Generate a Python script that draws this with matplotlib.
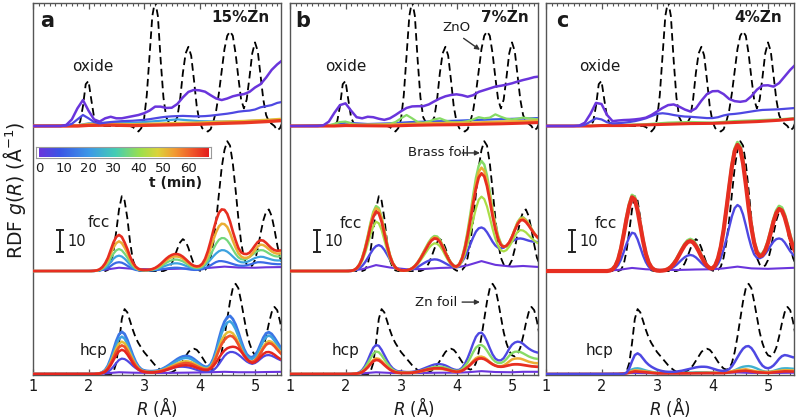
import numpy as np
import matplotlib
matplotlib.use("Agg")
import matplotlib.pyplot as plt
from matplotlib.colors import LinearSegmentedColormap
from matplotlib.ticker import MultipleLocator
import matplotlib.transforms as mtrans

plt.rcParams['font.family'] = ['DejaVu Sans']
plt.rcParams['mathtext.fontset'] = 'dejavusans'

# ---------------- data (g(R) units, scale bar = 10) ----------------
R_FINE = np.round(np.arange(1.0, 5.5001, 0.05), 2)      # 91 points
R_COARSE = np.round(np.arange(1.0, 5.5001, 0.1), 2)     # 46 points
R_FLAT = [1.0, 1.8, 2.0, 2.4, 2.8, 3.2, 3.6, 4.0, 4.4, 4.8, 5.2, 5.5]
R_PUR = [1.0, 2.0, 2.3, 2.55, 2.8, 3.1, 3.4, 3.7, 4.0, 4.2, 4.45, 4.7, 5.0, 5.2, 5.5]
R_SMALL = [1.0, 2.3, 2.45, 2.6, 2.8, 3.0, 3.5, 3.9, 4.2, 4.45, 4.6, 4.8, 5.0, 5.3, 5.5]
Z20 = [0.0] * 20
Z6 = [0.0] * 6

# reference (dashed) curves
ZNO_REF = ([0.0] * 16 +
           [0, 2, 9, 19, 20.5, 12, 4, 1, 0, 0, 0, 0, 0, 0, 0, 0, 0, 0, 0, 0] +
           [-0.5, -1.5, -2.5, -1, 3, 14, 32, 50, 57, 50, 30, 13, 4, 1.5, 1.5, 1.5, 4, 12, 24, 33] +
           [36, 32, 21, 9, 2, -1, -2, -2.5, -1.5, 2, 7, 15, 25, 35, 41, 43, 41, 33, 22, 12] +
           [8, 12, 22, 33, 38, 34, 23, 12, 5, 2, 1, 0, -2, -1, 2])
BRASS_REF = ([0.0] * 27 +
             [0.5, 3, 9, 18, 28, 34, 32, 24, 13, 5, 1.5, 0.3, 0] +
             [0, 0, 0, 0, 0, 0, 0, 0] +
             [0.5, 1.5, 3.5, 6.5, 10, 13, 14.5, 13.5, 10.5, 6.5, 3, 1, 0.2, 0, 0.5, 2, 6, 13, 23, 35,
              47, 55, 59, 57, 49, 37, 24, 13, 6, 3, 2, 2.5, 5, 10, 17, 23, 27, 28, 25, 19, 12, 6, 3])
ZN_REF = ([0.0] * 29 +
          [1, 5, 14, 25, 29.5, 28, 24, 20, 16.5, 14, 12] +
          [10, 8.5, 7, 5.5, 4, 2.8, 1.8, 1, 0.5, 0.5, 0.8, 1.5, 2.5, 4, 6, 8, 10, 11.2, 11.5, 11] +
          [9.5, 7.5, 5.5, 3.8, 2.5, 2, 2.5, 5, 10, 17, 25, 33, 39, 41, 39, 33, 26, 19, 14, 10.5] +
          [8.5, 8, 9, 12, 17, 23, 28, 30.5, 29, 24, 17])

# ---- panel a (15%Zn) ----
A_OX_PURPLE = Z6 + [0.5, 3, 8, 11.8, 7, 3, 2, 3.5, 4.2, 3.5,
                    3.5, 4, 4.5, 5, 5.8, 7, 8.8, 8.8, 8.2, 8.3,
                    10, 13, 15.5, 16.4, 16.2, 15.6, 14, 12.5, 11.8, 12.5,
                    13.5, 14.1, 14.5, 15.5, 17.5, 19, 22, 25.5, 28, 30]
A_OX_BLUE = Z6 + [0.2, 1, 3, 5, 3.5, 1.8, 1.2, 1.5, 1.8, 2,
                  2.2, 2.3, 2.4, 2.6, 2.8, 3.1, 3.5, 3.9, 4.2, 4.4,
                  4.5, 4.6, 4.5, 4.4, 4.4, 4.5, 4.7, 5, 5.3, 5.6,
                  6, 6.5, 6.8, 7, 7.5, 8.5, 9, 9.5, 10.5, 11]
A_OX_CYAN = [0, 0.3, 1.2, 1.5, 1.4, 2.2, 3.0, 2.2, 2.0, 2.2, 2.6, 3.0]
A_OX_ORANGE = [0, 0.2, 0.8, 0.9, 0.7, 1.0, 1.3, 1.5, 1.9, 2.2, 2.7, 3.2]
A_OX_RED = [0, 0, 0.3, 0.4, 0.2, 0.4, 0.6, 0.8, 1.2, 1.5, 2.0, 2.5]

A_FCC_PURPLE = [0, 0.1, 0.6, 1.5, 1.0, 0.8, 0.9, 1.1, 1.2, 1.5, 2.0, 1.6, 1.5, 1.7, 1.8]
A_FCC_BLUE = Z20 + [0, 0, 0, 0.1, 0.2, 0.5, 0.9, 1.5, 2.3, 3.2, 3.8, 4, 3.8, 3.2, 2.4, 1.6, 0.9, 0.5, 0.3, 0.2,
                    0.2, 0.2, 0.2, 0.3, 0.4, 0.5, 0.7, 0.9, 1.1, 1.3, 1.4, 1.5, 1.5, 1.4, 1.2, 1, 0.8, 0.6, 0.5, 0.5,
                    0.6, 0.8, 1.2, 1.8, 2.6, 3.4, 4.1, 4.5, 4.5, 4.3, 4.0, 3.6, 3.2, 2.8, 2.5, 2.4, 2.4, 2.6, 2.9, 3.3,
                    3.7, 4, 4, 3.9, 3.7, 3.5, 3.3, 3.2, 3.1, 3.1, 3.1]
A_FCC_CYAN = Z20 + [0, 0, 0, 0.1, 0.3, 0.8, 1.5, 2.6, 4, 5.6, 6.6, 7, 6.6, 5.6, 4.3, 2.8, 1.6, 0.9, 0.5, 0.3,
                    0.3, 0.3, 0.3, 0.4, 0.6, 1, 1.5, 2, 2.5, 2.9, 3.3, 3.5, 3.5, 3.3, 2.9, 2.4, 1.9, 1.4, 1.1, 1,
                    1.1, 1.6, 2.5, 3.8, 5.2, 6.7, 8, 9, 9.5, 9.4, 8.8, 7.8, 6.6, 5.4, 4.5, 4, 3.9, 4.1, 4.6, 5.3,
                    5.9, 6.3, 6.5, 6.4, 6, 5.6, 5.2, 4.9, 4.8, 4.8, 4.9]
A_FCC_GREEN = Z20 + [0, 0, 0, 0.2, 0.5, 1.1, 2.1, 3.7, 5.8, 7.9, 9.4, 10, 9.4, 7.9, 6.1, 4, 2.3, 1.2, 0.6, 0.4,
                     0.3, 0.3, 0.4, 0.6, 0.9, 1.4, 2.1, 2.9, 3.7, 4.4, 4.9, 5.2, 5.2, 4.9, 4.4, 3.6, 2.8, 2.1, 1.6, 1.4,
                     1.5, 2, 3.2, 5, 7.4, 10, 12.4, 14.2, 15, 14.9, 13.9, 12.1, 9.9, 7.8, 6.2, 5.4, 5.2, 5.5, 6.3, 7.3,
                     8.3, 9.1, 9.5, 9.4, 8.8, 8, 7.3, 6.8, 6.6, 6.6, 6.7]
A_FCC_ORANGE = Z20 + [0, 0, 0.1, 0.2, 0.6, 1.5, 2.9, 5, 7.8, 10.7, 12.7, 13.5, 12.7, 10.7, 8.2, 5.3, 3.1, 1.6, 0.8, 0.5,
                      0.4, 0.4, 0.5, 0.8, 1.2, 1.9, 2.7, 3.8, 4.8, 5.7, 6.3, 6.6, 6.6, 6.3, 5.6, 4.6, 3.6, 2.7, 2.1, 1.8,
                      2, 2.6, 4.2, 6.9, 10.3, 14.2, 17.7, 20.3, 21.5, 21.3, 20, 17.3, 13.8, 10.7, 8.1, 6.6, 6, 6, 6.5, 7.9,
                      9.6, 11.2, 12, 11.8, 11, 9.9, 8.9, 8.2, 7.9, 8, 8.1]
A_FCC_RED = Z20 + [0, 0, 0.1, 0.3, 0.8, 1.8, 3.5, 6, 9.5, 13, 15.5, 16.4, 15.5, 13, 10, 6.5, 3.8, 2, 1, 0.6,
                   0.5, 0.5, 0.6, 0.9, 1.4, 2.2, 3.2, 4.4, 5.6, 6.6, 7.3, 7.7, 7.7, 7.3, 6.5, 5.4, 4.2, 3.1, 2.4, 2.1,
                   2.3, 3.3, 5.5, 9, 13.5, 18.5, 23, 26.5, 28, 27.8, 26, 22.5, 18, 14, 10.5, 8.5, 7.8, 7.7, 8.3, 9.8,
                   11.6, 13.2, 14, 13.8, 12.8, 11.5, 10.3, 9.5, 9.2, 9.3, 9.5]

A_HCP_PURPLE = [0, 0.1, 0.3, 0.8, 0.6, 0.5, 0.5, 0.6, 0.7, 0.8, 1.0, 0.8, 0.8, 0.9, 1.0]
A_HCP_BLUELOW = Z20 + [0, 0, 0, 0, 0.1, 0.2, 0.5, 1, 2, 3.4, 5, 6.4, 7, 6.8, 6, 4.9, 3.7, 2.7, 1.9, 1.4,
                       1.1, 0.9, 0.8, 0.8, 0.8, 0.9, 1.1, 1.4, 1.8, 2.2, 2.6, 3, 3.2, 3.3, 3.3, 3.2, 3, 2.7, 2.3, 1.9,
                       1.5, 1.2, 1, 1, 1.2, 1.8, 2.9, 4.5, 6.4, 8.2, 9.4, 10, 10, 9.6, 8.8, 7.8, 6.7, 5.7, 5, 4.6,
                       5, 5.8, 6.9, 7.9, 8.5, 8.6, 8.3, 7.7, 7, 6.4, 5.9]
A_HCP_BLUE = Z20 + [0, 0, 0, 0.1, 0.3, 0.8, 1.8, 3.8, 7, 11, 15, 18, 19.2, 18.2, 15.5, 12, 8.5, 5.6, 3.5, 2.2,
                    1.6, 1.4, 1.3, 1.3, 1.4, 1.6, 2, 2.6, 3.3, 4.1, 5, 5.9, 6.8, 7.5, 8, 8.2, 8.1, 7.6, 6.8, 5.8,
                    4.8, 3.9, 3.3, 3.3, 4.4, 7, 11, 16, 20.5, 23.8, 25.8, 26.4, 25, 22.5, 19, 15, 11.5, 9, 7.8, 7.6,
                    8.5, 10.5, 13.5, 16.5, 18.5, 19, 18.2, 16.5, 14.5, 12.5, 11]
A_HCP_CYAN = Z20 + [0, 0, 0, 0.1, 0.3, 0.7, 1.6, 3.4, 6.2, 9.7, 13.3, 16, 17, 16.1, 13.7, 10.6, 7.5, 5, 3.1, 2,
                    1.4, 1.2, 1.1, 1.1, 1.2, 1.4, 1.8, 2.3, 2.9, 3.6, 4.4, 5.2, 6, 6.6, 7.1, 7.3, 7.2, 6.8, 6, 5.1,
                    4.2, 3.4, 2.9, 2.9, 3.9, 6.2, 9.9, 14.4, 18.6, 21.6, 23.4, 24, 22.7, 20.4, 17.3, 13.6, 10.5, 8.2, 7.1, 6.9,
                    7.7, 9.5, 12.3, 15, 16.8, 17.5, 16.8, 15.2, 13.3, 11.5, 10.1]
A_HCP_ORANGE = Z20 + [0, 0, 0, 0.1, 0.2, 0.6, 1.4, 2.9, 5.3, 8.4, 11.5, 13.8, 14.7, 14, 11.9, 9.2, 6.5, 4.3, 2.7, 1.7,
                      1.2, 1, 0.9, 0.9, 1, 1.2, 1.5, 1.9, 2.4, 3, 3.6, 4.2, 4.8, 5.3, 5.6, 5.8, 5.7, 5.4, 4.8, 4.1,
                      3.4, 2.8, 2.4, 2.4, 3.3, 5.3, 8.4, 12.1, 15.4, 17.6, 18.9, 19.2, 18.5, 16.8, 14.3, 11.4, 8.7, 6.8, 5.8, 5.6,
                      6.3, 7.8, 10.1, 12.4, 14.2, 15, 14.6, 13.4, 11.8, 10.2, 9]
A_HCP_RED = Z20 + [0, 0, 0, 0.1, 0.2, 0.6, 1.2, 2.6, 4.7, 7.4, 10.2, 12.2, 13, 12.4, 10.5, 8.1, 5.8, 3.8, 2.4, 1.5,
                   1.1, 0.9, 0.8, 0.8, 0.9, 1, 1.3, 1.7, 2.1, 2.6, 3.1, 3.6, 4.1, 4.5, 4.8, 5, 4.9, 4.6, 4.1, 3.5,
                   2.9, 2.4, 2.1, 2.1, 2.9, 4.8, 7.6, 10.8, 13.6, 15.5, 16.8, 17.4, 17, 15.6, 13.4, 10.8, 8.4, 6.6, 5.7, 5.5,
                   6.1, 7.4, 9.5, 11.6, 13.3, 14, 13.7, 12.6, 11.1, 9.7, 8.5]
A_HCP_REDLOW = Z20 + [0, 0, 0, 0.1, 0.2, 0.5, 1, 2.2, 4, 6.3, 8.6, 10.3, 11, 10.5, 8.9, 6.9, 4.9, 3.2, 2, 1.3,
                      0.9, 0.8, 0.7, 0.7, 0.8, 0.9, 1.1, 1.4, 1.8, 2.2, 2.6, 3, 3.4, 3.7, 3.9, 4, 3.9, 3.7, 3.3, 2.8,
                      2.4, 2, 1.8, 1.8, 2.4, 3.6, 5.3, 7.3, 9.2, 10.7, 11.7, 12.2, 12.4, 12.2, 11.5, 10.2, 8.6, 7, 5.7, 5,
                      5.4, 6.4, 7.8, 9.1, 9.9, 10, 9.6, 8.8, 7.8, 6.9, 6.2]

# ---- panel b (7%Zn) ----
B_OX_PURPLE = Z6 + [0.3, 2, 6, 9.5, 10.3, 7, 4, 3.5, 4.2, 4,
                    3.3, 2.8, 3.5, 5, 6.7, 8.2, 8.9, 9, 9, 9.8,
                    11.2, 12.5, 13.5, 14.1, 14.4, 14, 13.3, 14, 15.5, 16.3,
                    17.1, 17.9, 18.3, 18.8, 19.4, 20.2, 20.9, 21.5, 22.2, 22.5]
B_OX_GREEN = Z6 + [0, 0.3, 1, 1.8, 2, 1.2, 0.6, 0.5, 0.5, 0.6,
                   0.7, 0.8, 1, 1.8, 3.5, 5, 3.5, 1.8, 1.5, 2,
                   3, 3.5, 2.5, 1.8, 1.7, 1.8, 2.2, 3, 4, 3.5,
                   3.8, 5.3, 4.2, 3.3, 3, 3.3, 3.8, 3.5, 3.2, 3]
B_OX_BLUE = [0, 0.5, 1.5, 0.9, 1.2, 1.8, 2.1, 2.4, 2.8, 3.1, 3.4, 3.6]
B_OX_ORANGE = [0, 0.1, 0.5, 0.6, 0.6, 1.0, 1.3, 1.4, 1.6, 2.0, 2.2, 2.5]
B_OX_RED = [0, 0, 0.2, 0.1, 0, 0.3, 0.5, 0.6, 0.8, 1.0, 1.3, 1.6]

B_FCC_PURPLE = [0, 0.1, 0.8, 2.7, 1.6, 0.8, 0.9, 1.4, 1.6, 2.6, 4.5, 2.8, 2.0, 2.3, 1.8]
B_FCC_BLUE = Z20 + [0, 0, 0, 0.2, 0.5, 1.2, 2.3, 3.9, 5.9, 8, 10, 11.3, 11.8, 11.2, 9.6, 7.5, 5.3, 3.3, 1.8, 0.9,
                    0.5, 0.4, 0.4, 0.5, 0.8, 1.2, 1.8, 2.6, 3.4, 4.1, 4.7, 5.1, 5.3, 5.2, 4.8, 4.2, 3.5, 2.8, 2.3, 2,
                    2.1, 2.8, 4.2, 6.3, 9, 12.2, 15.3, 17.9, 19.4, 19.8, 19.2, 17.6, 15.5, 13.3, 11.6, 10.6, 10.3, 10.6, 11.4, 12.4,
                    13.4, 14.2, 14.7, 14.8, 14.6, 14.2, 13.8, 13.5, 13.3, 13.2, 13.1]
B_FCC_GREEN = Z20 + [0, 0, 0.1, 0.4, 1.3, 3, 6, 10.4, 15.8, 21.8, 26.8, 29.5, 28.6, 24.6, 18.6, 12.6, 7.4, 3.8, 1.7, 0.8,
                     0.3, 0.2, 0.3, 0.6, 1.3, 2.4, 4, 6, 8.4, 10.8, 13.1, 14.9, 15.9, 15.7, 14.3, 11.8, 8.8, 6, 3.9, 2.5,
                     2.1, 3.2, 6.2, 11.2, 18, 26, 34.3, 42.2, 47.8, 50, 48.4, 43.3, 36, 28.1, 21.3, 16, 12.5, 11, 11.2, 12.8,
                     15.5, 19, 22.2, 24, 24.4, 23.3, 21.5, 19.3, 17.2, 15.5, 14.2]
B_FCC_GREENLOW = Z20 + [0, 0, 0.1, 0.3, 1, 2.3, 4.6, 7.9, 12, 16.6, 20.3, 22.4, 21.7, 18.7, 14.1, 9.6, 5.6, 2.9, 1.3, 0.6,
                        0.2, 0.2, 0.2, 0.5, 1, 1.9, 3.1, 4.8, 6.6, 8.5, 10.4, 11.8, 12.6, 12.4, 11.3, 9.4, 7, 4.8, 3.1, 2,
                        1.7, 2.5, 4.4, 7.7, 12.3, 17.7, 23.2, 28.4, 32.4, 33.8, 32.7, 29.3, 24.4, 19.2, 14.7, 11.4, 9.4, 8.9, 9.5, 11.1,
                        13.3, 15.8, 17.8, 18.6, 18.4, 17.6, 16.3, 15, 13.8, 12.9, 12.2]
B_FCC_ORANGE = Z20 + [0, 0, 0.1, 0.4, 1.3, 2.9, 5.8, 10, 15.3, 21.1, 25.9, 28.5, 27.7, 23.8, 18, 12.2, 7.2, 3.7, 1.7, 0.7,
                      0.3, 0.2, 0.3, 0.6, 1.2, 2.3, 3.8, 5.8, 8.1, 10.4, 12.6, 14.4, 15.3, 15.1, 13.7, 11.4, 8.5, 5.8, 3.7, 2.4,
                      2, 3.1, 5.9, 10.6, 17, 24.4, 32.3, 39.7, 45, 47, 45.5, 40.7, 33.9, 26.5, 20.1, 15.3, 12.2, 11, 11.4, 13,
                      15.6, 18.8, 21.8, 23.6, 24, 23, 21.2, 19.1, 17.1, 15.5, 14.3]
B_FCC_RED = Z20 + [0, 0, 0.1, 0.4, 1.2, 2.8, 5.5, 9.5, 14.5, 20, 24.5, 27, 26.2, 22.5, 17, 11.5, 6.8, 3.5, 1.6, 0.7,
                   0.3, 0.2, 0.3, 0.6, 1.2, 2.2, 3.7, 5.6, 7.8, 10, 12.2, 13.9, 14.8, 14.6, 13.3, 11, 8.2, 5.6, 3.6, 2.3,
                   2, 3, 5.6, 10, 16, 23, 30.5, 37.5, 42.5, 44.4, 43, 38.5, 32, 25, 19, 14.5, 11.8, 11, 11.5, 13,
                   15.5, 18.5, 21.3, 23, 23.2, 22.3, 20.7, 18.8, 17, 15.6, 14.5]

B_HCP_PURPLE = [0, 0.1, 0.3, 0.8, 0.5, 0.4, 0.5, 0.6, 0.6, 0.8, 1.3, 0.9, 0.8, 1.0, 1.0]
B_HCP_BLUE = Z20 + [0, 0, 0, 0.1, 0.3, 0.8, 1.8, 3.6, 6.2, 9.2, 11.9, 13.2, 12.8, 11, 8.6, 6.2, 4.1, 2.6, 1.7, 1.2,
                    1.2, 1, 0.9, 0.9, 1, 1.2, 1.5, 1.9, 2.4, 2.9, 3.4, 3.9, 4.3, 4.5, 4.5, 4.3, 3.9, 3.3, 2.6, 2.1,
                    1.8, 1.9, 2.8, 4.6, 7.2, 10.4, 13.9, 16.9, 18.5, 18.8, 17.4, 14.8, 11.7, 8.9, 7, 6.2, 6.2, 7.2, 9.2, 11.5,
                    13.3, 14.3, 14.7, 14.5, 13.7, 12.6, 11.6, 10.8, 10.2, 9.8, 9.6]
B_HCP_GREEN = Z20 + [0, 0, 0, 0.1, 0.2, 0.6, 1.4, 2.8, 4.8, 7.1, 9.2, 10.2, 9.9, 8.5, 6.6, 4.8, 3.2, 2, 1.3, 0.9,
                     0.8, 0.7, 0.7, 0.7, 0.8, 0.9, 1.1, 1.4, 1.8, 2.2, 2.6, 2.9, 3.2, 3.3, 3.3, 3.2, 2.9, 2.5, 2, 1.6,
                     1.4, 1.5, 2.2, 3.5, 5.2, 7.4, 9.9, 12, 13, 13.2, 12.3, 10.6, 8.6, 6.8, 5.6, 5, 5, 5.6, 6.8, 8.3,
                     9.5, 10.1, 10.2, 10, 9.4, 8.7, 8, 7.5, 7.1, 6.9, 6.8]
B_HCP_ORANGE = Z20 + [0, 0, 0, 0.1, 0.2, 0.4, 1, 2, 3.4, 5, 6.4, 7.1, 6.9, 5.9, 4.6, 3.3, 2.2, 1.4, 0.9, 0.6,
                      0.5, 0.5, 0.5, 0.5, 0.6, 0.7, 0.9, 1.1, 1.4, 1.7, 1.9, 2.1, 2.3, 2.3, 2.3, 2.2, 2, 1.7, 1.4, 1.1,
                      1, 1.1, 1.6, 2.3, 3.3, 4.6, 6, 7.2, 7.8, 7.9, 7.5, 6.6, 5.5, 4.5, 3.8, 3.5, 3.5, 3.9, 4.7, 5.7,
                      6.6, 7, 7.1, 7, 6.6, 6.1, 5.6, 5.3, 5, 4.9, 4.8]
B_HCP_RED = Z20 + [0, 0, 0, 0.1, 0.2, 0.4, 0.9, 1.8, 3, 4.5, 5.8, 6.4, 6.2, 5.3, 4.1, 3, 2, 1.3, 0.8, 0.6,
                   0.5, 0.5, 0.5, 0.5, 0.6, 0.8, 1, 1.3, 1.6, 1.9, 2.2, 2.4, 2.6, 2.6, 2.6, 2.5, 2.2, 1.9, 1.5, 1.2,
                   1, 1.1, 1.5, 2.2, 3.1, 4.2, 5.4, 6.4, 7, 7.1, 6.8, 6.1, 5.2, 4.4, 3.8, 3.4, 3.3, 3.4, 3.7, 4,
                   4.3, 4.4, 4.4, 4.3, 4.1, 3.9, 3.7, 3.5, 3.4, 3.3, 3.3]

# ---- panel c (4%Zn) ----
C_OX_PURPLE = Z6 + [0.2, 1.5, 5.5, 10.5, 10, 5, 2.2, 2.5, 2.7, 2.8,
                    3, 3.3, 3.8, 5, 6.6, 8.2, 9.5, 9.8, 8.8, 7.5,
                    6.6, 8, 11.5, 14.5, 15.8, 15.9, 14.5, 12.3, 11.3, 11,
                    11.4, 13.5, 16.5, 18.4, 18.5, 17.9, 19.5, 22.5, 25.5, 28]
C_OX_BLUE = Z6 + [0, 0.5, 2, 3.5, 3, 1.7, 1.2, 1.3, 1.5, 1.8,
                  2.2, 2.8, 3.5, 4.5, 5.5, 5.8, 5.5, 5, 4.6, 4.3,
                  4.2, 4, 3.8, 3.6, 3.6, 4, 4.8, 5.3, 5.5, 5.8,
                  6.2, 6.6, 7, 7.3, 7.4, 7.5, 7.6, 7.8, 8, 8.2]
C_OX_GREEN = [0, 0.1, 0.4, 0.5, 0.8, 1.5, 1.8, 1.5, 2.2, 2.6, 3.0, 3.6]
C_OX_RED = [0, 0, 0.2, 0.2, 0.5, 0.8, 1.1, 1.2, 1.6, 2.0, 2.6, 3.3]

C_FCC_PURPLE = [0, 0.1, 0.5, 1.4, 0.8, 0.5, 0.5, 0.7, 0.8, 1.2, 2.0, 1.2, 1.0, 1.2, 1.5]
C_FCC_BLUE = Z20 + [0, 0, 0, 0.1, 0.4, 1.2, 2.7, 5.2, 8.6, 12.3, 15.4, 17.4, 17, 14.4, 10.7, 7, 4, 2, 0.9, 0.4,
                    0.2, 0.1, 0.2, 0.3, 0.6, 1.1, 1.8, 2.8, 4, 5.2, 6.3, 7, 7.3, 7, 6.2, 5, 3.7, 2.5, 1.6, 1,
                    0.9, 1.6, 3.3, 6, 9.8, 14.6, 19.8, 24.9, 28.6, 30, 29.1, 25.7, 20.8, 15.5, 10.9, 7.6, 6, 5.8, 6.4, 7.8,
                    9.6, 11.6, 13.4, 14.5, 14.8, 14.4, 13, 11, 9, 7.5, 6.5]
C_FCC_GREEN = Z20 + [0, 0, 0, 0.3, 1, 2.6, 5.7, 10.7, 17.4, 24.5, 30.6, 34.5, 33.6, 28.6, 21.4, 14.2, 8.2, 4.1, 1.8, 0.7,
                     0.3, 0.2, 0.3, 0.5, 1.1, 2.1, 3.6, 5.5, 7.8, 10.2, 12.4, 13.9, 14.5, 13.9, 12.2, 9.8, 7, 4.6, 2.7, 1.5,
                     1.3, 2.8, 6.1, 11.4, 19, 28.6, 38.8, 48.5, 55.6, 58.5, 56.8, 50.3, 40.8, 30.2, 20.9, 13.7, 9.2, 7.5, 7.9, 10.1,
                     13.7, 18.5, 23.6, 27.5, 29.5, 28.8, 25.8, 21.3, 16.2, 12.1, 9.3]
C_FCC_RED = Z20 + [0, 0, 0, 0.2, 0.8, 2.3, 5.2, 10, 16.5, 23.5, 29.5, 33.5, 32.5, 27.5, 20.5, 13.5, 7.7, 3.8, 1.6, 0.6,
                   0.2, 0.1, 0.2, 0.4, 0.9, 1.8, 3.2, 5, 7.3, 9.6, 11.7, 13.1, 13.6, 13, 11.4, 9.1, 6.5, 4.2, 2.4, 1.3,
                   1.2, 2.6, 5.8, 11, 18.5, 28, 38, 47.5, 54.5, 57.3, 55.5, 49, 39.5, 29, 19.8, 12.8, 8.4, 6.8, 7.2, 9.3,
                   12.8, 17.5, 22.5, 26.3, 28.2, 27.5, 24.5, 20, 15, 11, 8.3]

C_HCP_PURPLE = [0, 0.1, 0.2, 0.5, 0.4, 0.3, 0.3, 0.4, 0.4, 0.5, 0.7, 0.5, 0.5, 0.5, 0.6]
C_HCP_BLUE = Z20 + [0, 0, 0, 0, 0, 0, 0, 0, 0.1, 0.6, 2.5, 5.8, 8.6, 9.4, 8.6, 7, 5.4, 4.2, 3.3, 2.6,
                    2, 1.6, 1.3, 1.1, 1, 1, 1, 1.1, 1.3, 1.5, 1.8, 2.1, 2.4, 2.7, 3, 3.2, 3.3, 3.3, 3.2, 2.9,
                    2.5, 2.1, 1.7, 1.5, 1.4, 1.6, 2.2, 3.5, 5.4, 7.6, 9.7, 11.5, 12.5, 12.7, 11.8, 10, 7.7, 5.5, 3.8, 2.9,
                    2.6, 3, 3.9, 5.3, 6.9, 8.1, 8.6, 8.4, 8, 7.6, 7.5]
C_HCP_CYAN = Z20 + [0, 0, 0, 0, 0, 0, 0, 0, 0.1, 0.4, 1.2, 2.1, 2.5, 2.6, 2.4, 2, 1.6, 1.3, 1, 0.8,
                    0.6, 0.5, 0.4, 0.4, 0.4, 0.4, 0.4, 0.4, 0.5, 0.5, 0.6, 0.6, 0.7, 0.7, 0.8, 0.8, 0.8, 0.8, 0.8, 0.7,
                    0.7, 0.6, 0.5, 0.5, 0.5, 0.6, 0.8, 1.2, 1.7, 2.3, 2.9, 3.3, 3.5, 3.6, 3.4, 3, 2.5, 1.9, 1.4, 1.1,
                    1, 1.1, 1.4, 1.8, 2.2, 2.5, 2.6, 2.6, 2.5, 2.4, 2.3]
C_HCP_ORANGE = [0, 0, 0.5, 1.8, 1.2, 0.5, 0.4, 0.6, 0.6, 1.8, 2.2, 1.2, 0.9, 1.8, 1.6]
C_HCP_RED = [0, 0, 0.3, 1.2, 0.8, 0.3, 0.3, 0.4, 0.4, 1.2, 1.5, 0.8, 0.5, 1.2, 1.1]

PANEL_LETTERS = ['a', 'b', 'c']
PANEL_TITLES = ['15%Zn', '7%Zn', '4%Zn']
X_TICKS = [1, 2, 3, 4, 5]
CB_TICKS = [0, 10, 20, 30, 40, 50, 60]
T_MAX = 68.0

# ---------------- style / layout ----------------
OFFSET = {'hcp': 0.0, 'fcc': 46.8, 'oxide': 112.7}
cmap = LinearSegmentedColormap.from_list('tcol', [
    (0.00, '#6a35dc'), (0.12, '#3a55e6'), (0.30, '#3c9be6'), (0.45, '#45cdb4'),
    (0.60, '#9ee04a'), (0.70, '#dcd33a'), (0.80, '#f29a32'), (0.90, '#f05a2a'), (1.00, '#e41e1e')])

# (region, R array, values, time in min, linewidth)
PANEL_CURVES = [
    [('oxide', R_FLAT, A_OX_CYAN, 22, 1.6), ('oxide', R_FLAT, A_OX_ORANGE, 50, 2.0),
     ('oxide', R_FLAT, A_OX_RED, 65, 2.4), ('oxide', R_COARSE, A_OX_BLUE, 5, 1.6),
     ('oxide', R_COARSE, A_OX_PURPLE, 0, 1.8),
     ('fcc', R_PUR, A_FCC_PURPLE, 0, 1.5), ('fcc', R_FINE, A_FCC_BLUE, 12, 1.6),
     ('fcc', R_FINE, A_FCC_CYAN, 22, 1.6), ('fcc', R_FINE, A_FCC_GREEN, 36, 1.6),
     ('fcc', R_FINE, A_FCC_ORANGE, 52, 1.8), ('fcc', R_FINE, A_FCC_RED, 66, 1.9),
     ('hcp', R_PUR, A_HCP_PURPLE, 0, 1.5), ('hcp', R_FINE, A_HCP_BLUELOW, 5, 1.6),
     ('hcp', R_FINE, A_HCP_BLUE, 14, 2.0), ('hcp', R_FINE, A_HCP_CYAN, 22, 1.8),
     ('hcp', R_FINE, A_HCP_ORANGE, 50, 1.8), ('hcp', R_FINE, A_HCP_RED, 62, 1.9),
     ('hcp', R_FINE, A_HCP_REDLOW, 67, 1.8)],
    [('oxide', R_FLAT, B_OX_BLUE, 8, 1.6), ('oxide', R_COARSE, B_OX_GREEN, 38, 1.6),
     ('oxide', R_FLAT, B_OX_ORANGE, 52, 1.8), ('oxide', R_FLAT, B_OX_RED, 66, 2.2),
     ('oxide', R_COARSE, B_OX_PURPLE, 0, 1.8),
     ('fcc', R_PUR, B_FCC_PURPLE, 0, 1.5), ('fcc', R_FINE, B_FCC_BLUE, 5, 1.7),
     ('fcc', R_FINE, B_FCC_GREEN, 38, 1.8), ('fcc', R_FINE, B_FCC_GREENLOW, 42, 1.6),
     ('fcc', R_FINE, B_FCC_ORANGE, 52, 1.8), ('fcc', R_FINE, B_FCC_RED, 66, 2.0),
     ('hcp', R_PUR, B_HCP_PURPLE, 0, 1.5), ('hcp', R_FINE, B_HCP_BLUE, 5, 1.7),
     ('hcp', R_FINE, B_HCP_GREEN, 38, 1.7), ('hcp', R_FINE, B_HCP_ORANGE, 52, 1.8),
     ('hcp', R_FINE, B_HCP_RED, 66, 2.0)],
    [('oxide', R_FLAT, C_OX_GREEN, 38, 1.7), ('oxide', R_FLAT, C_OX_RED, 66, 2.2),
     ('oxide', R_COARSE, C_OX_BLUE, 5, 1.6), ('oxide', R_COARSE, C_OX_PURPLE, 0, 1.8),
     ('fcc', R_PUR, C_FCC_PURPLE, 0, 1.5), ('fcc', R_FINE, C_FCC_BLUE, 5, 1.7),
     ('fcc', R_FINE, C_FCC_GREEN, 38, 2.2), ('fcc', R_FINE, C_FCC_RED, 66, 3.0),
     ('hcp', R_PUR, C_HCP_PURPLE, 0, 1.5), ('hcp', R_FINE, C_HCP_CYAN, 25, 1.7),
     ('hcp', R_SMALL, C_HCP_ORANGE, 52, 1.7), ('hcp', R_SMALL, C_HCP_RED, 66, 1.9),
     ('hcp', R_FINE, C_HCP_BLUE, 5, 1.8)],
]
REFS = [('oxide', ZNO_REF), ('fcc', BRASS_REF), ('hcp', ZN_REF)]

for reg, rr, vv, t, lw in [c for p in PANEL_CURVES for c in p]:
    if len(rr) != len(vv):
        raise ValueError(f"length mismatch {reg} {t} {len(rr)} {len(vv)}")
for reg, vv in REFS:
    if len(vv) != len(R_FINE):
        raise ValueError(f"ref length {reg} {len(vv)}")

W, H = 796, 419
fig = plt.figure(figsize=(W / 100, H / 100), dpi=100)
PANEL_LEFT_PX = [33, 290, 546]
AX_W_PX, AX_TOP_PX, AX_BOT_PX = 248, 3, 375
XMAX = 1.0 + AX_W_PX / 55.5

LABEL_POS = {  # axes-fraction positions of in-panel labels
    'letter': [(0.056, 0.952), (0.052, 0.952), (0.065, 0.952)],
    'title': [(0.835, 0.962), (0.867, 0.962), (0.855, 0.962)],
    'oxide': [(0.242, 0.828), (0.226, 0.828), (0.218, 0.828)],
    'fcc': [(0.266, 0.409), (0.246, 0.406), (0.242, 0.406)],
    'hcp': [(0.244, 0.065), (0.226, 0.067), (0.214, 0.067)],
    'bar': [0.109, 0.109, 0.105],
}
TXT = '#1a1a1a'

axes = []
for i in range(3):
    left = PANEL_LEFT_PX[i] / W
    bottom = (H - AX_BOT_PX) / H
    ax = fig.add_axes([left, bottom, AX_W_PX / W, (AX_BOT_PX - AX_TOP_PX) / H])
    axes.append(ax)
    ax.set_xlim(1.0, XMAX)
    ax.set_ylim(-0.45, 168.6)
    for sp in ax.spines.values():
        sp.set_color('#555555')
        sp.set_linewidth(1.0)

    # dashed references
    for reg, vv in REFS:
        ax.plot(R_FINE, np.asarray(vv) + OFFSET[reg], color='black', lw=1.3,
                ls=(0, (4.2, 2.4)), zorder=2)
    # measured curves
    for reg, rr, vv, t, lw in PANEL_CURVES[i]:
        ax.plot(rr, np.asarray(vv, dtype=float) + OFFSET[reg], color=cmap(t / T_MAX),
                lw=lw, solid_joinstyle='round', solid_capstyle='round', zorder=3)

    ax.set_yticks([])
    ax.set_xticks(X_TICKS)
    ax.xaxis.set_minor_locator(MultipleLocator(0.2))
    ax.tick_params(axis='x', which='major', direction='in', length=4.5, width=0.9,
                   colors='#555555', labelcolor=TXT, labelsize=10.5, pad=3)
    ax.tick_params(axis='x', which='minor', direction='in', length=2.5, width=0.8, colors='#555555')
    sec = ax.secondary_xaxis('top')
    sec.set_xticks(X_TICKS)
    sec.xaxis.set_minor_locator(MultipleLocator(0.1))
    sec.tick_params(axis='x', which='major', direction='in', length=4, width=0.9,
                    colors='#555555', labeltop=False)
    sec.tick_params(axis='x', which='minor', direction='in', length=2.5, width=0.8, colors='#555555')
    sec.spines['top'].set_visible(False)
    ax.set_xlabel('$R$ (Å)', fontsize=12, color=TXT, labelpad=0.5)

    lx, ly = LABEL_POS['letter'][i]
    ax.text(lx, ly, PANEL_LETTERS[i], transform=ax.transAxes, fontsize=15, fontweight='bold',
            ha='center', va='center', color=TXT)
    tx, ty = LABEL_POS['title'][i]
    ax.text(tx, ty, PANEL_TITLES[i], transform=ax.transAxes, fontsize=11, fontweight='bold',
            ha='center', va='center', color=TXT)
    for key in ('oxide', 'fcc', 'hcp'):
        px, py = LABEL_POS[key][i]
        ax.text(px, py, key, transform=ax.transAxes, fontsize=11, ha='center', va='center', color=TXT)

    # 10-unit scale bar in the fcc block
    bx = LABEL_POS['bar'][i]
    blend = mtrans.blended_transform_factory(ax.transAxes, ax.transData)
    y0, y1 = OFFSET['fcc'] + 8.6, OFFSET['fcc'] + 18.6
    ax.plot([bx, bx], [y0, y1], transform=blend, color='#222222', lw=1.4, zorder=4)
    for yy in (y0, y1):
        ax.plot([bx - 0.012, bx + 0.012], [yy, yy], transform=blend, color='#222222', lw=1.4, zorder=4)
    ax.text(bx + 0.068, (y0 + y1) / 2, '10', transform=blend, fontsize=10.5, ha='center',
            va='center', color=TXT)

# colour bar (panel a)
axa = axes[0]
cax = axa.inset_axes([0.012, 0.583, 0.706, 0.0296])
cax.imshow(np.linspace(0, 1, 256)[None, :], aspect='auto', cmap=cmap,
           extent=[0, T_MAX, 0, 1], interpolation='bilinear')
cax.set_xlim(-1.2, T_MAX + 1.2)
cax.set_ylim(-0.12, 1.12)
cax.set_yticks([])
cax.set_xticks(CB_TICKS)
cax.set_xticklabels([str(v) for v in CB_TICKS])
cax.tick_params(axis='x', length=0, pad=2.5, labelsize=9.5, labelcolor=TXT)
for sp in cax.spines.values():
    sp.set_color('#9a9a9a')
    sp.set_linewidth(0.8)
axa.text(0.573, 0.516, 't (min)', transform=axa.transAxes, fontsize=10, fontweight='bold',
         ha='center', va='center', color=TXT)

# annotations (panel b)
axb = axes[1]
arrow_kw = dict(arrowstyle='-|>', color='#333333', lw=1.0, mutation_scale=7, shrinkA=0, shrinkB=0)
axb.text(0.673, 0.933, 'ZnO', transform=axb.transAxes, fontsize=9.5, ha='center', va='center', color=TXT)
axb.annotate('', xy=(0.766, 0.874), xytext=(0.700, 0.905), xycoords='axes fraction',
             textcoords='axes fraction', arrowprops=arrow_kw)
axb.text(0.601, 0.599, 'Brass foil', transform=axb.transAxes, fontsize=9.5, ha='center',
         va='center', color=TXT)
axb.annotate('', xy=(0.766, 0.597), xytext=(0.694, 0.597), xycoords='axes fraction',
             textcoords='axes fraction', arrowprops=arrow_kw)
axb.text(0.589, 0.196, 'Zn foil', transform=axb.transAxes, fontsize=9.5, ha='center',
         va='center', color=TXT)
axb.annotate('', xy=(0.766, 0.196), xytext=(0.694, 0.196), xycoords='axes fraction',
             textcoords='axes fraction', arrowprops=arrow_kw)

fig.text(0.018, 0.547, 'RDF $g(R)$ (Å$^{-1}$)', rotation=90, fontsize=13.5, ha='center',
         va='center', color=TXT)

fig.savefig('out.png', dpi=100)
